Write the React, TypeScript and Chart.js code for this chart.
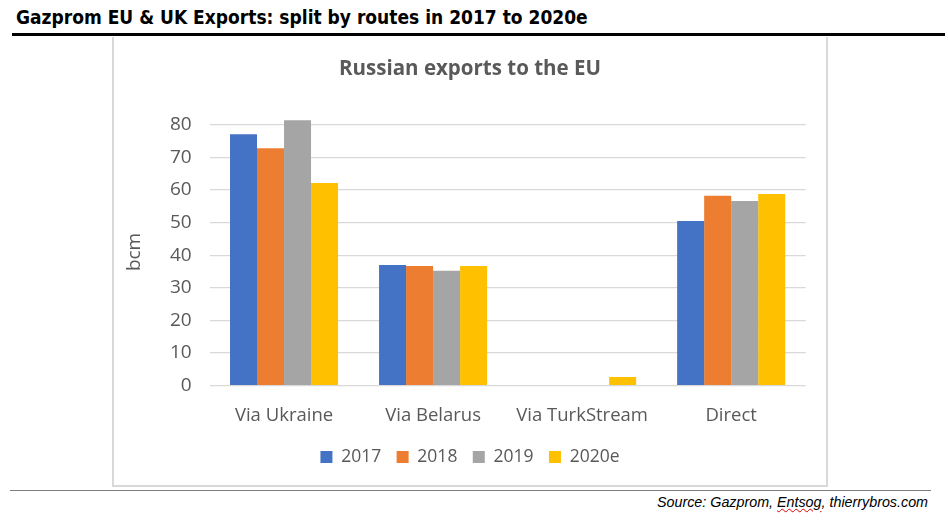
import React, { useEffect, useRef } from "react";
import { Chart, registerables } from "chart.js";

Chart.register(...registerables);

const categories = ["Via Ukraine", "Via Belarus", "Via TurkStream", "Direct"];
const seriesLabels = ["2017", "2018", "2019", "2020e"];
const values2017 = [77.1, 37.0, 0, 50.5];
const values2018 = [72.8, 36.7, 0, 58.2];
const values2019 = [81.4, 35.2, 0, 56.6];
const values2020e = [62.1, 36.7, 2.7, 58.8];
const yTicks = [0, 10, 20, 30, 40, 50, 60, 70, 80];
const seriesColors = ["#4472C4", "#ED7D31", "#A5A5A5", "#FFC000"];

const pageTitle = "Gazprom EU & UK Exports: split by routes in 2017 to 2020e";
const chartTitle = "Russian exports to the EU";
const yAxisTitle = "bcm";

const TEXT = "#595959";
const FONT = "'Open Sans', 'Noto Sans', sans-serif";

export default function App() {
  const canvasRef = useRef<HTMLCanvasElement | null>(null);

  useEffect(() => {
    if (!canvasRef.current) return;
    const allValues = [values2017, values2018, values2019, values2020e];
    const chart = new Chart(canvasRef.current, {
      type: "bar",
      data: {
        labels: categories,
        datasets: seriesLabels.map((label, i) => ({
          label,
          data: allValues[i],
          backgroundColor: seriesColors[i],
          borderWidth: 0,
          categoryPercentage: 0.725,
          barPercentage: 1,
        })),
      },
      options: {
        responsive: false,
        animation: false,
        devicePixelRatio: 1,
        layout: { padding: { left: 20.3, right: 20.3, top: 0, bottom: 9.25 } },
        font: { family: FONT },
        plugins: {
          title: {
            display: true,
            text: chartTitle,
            color: TEXT,
            font: { family: FONT, size: 20.5, weight: "bold" },
            padding: { top: 17.7, bottom: 36.9 },
          },
          legend: {
            position: "bottom",
            labels: {
              color: TEXT,
              font: { family: FONT, size: 17.5 },
              boxWidth: 12,
              boxHeight: 12,
              padding: 15.4,
            },
          },
          tooltip: { enabled: false },
        },
        scales: {
          x: {
            grid: { display: false },
            border: { display: false },
            ticks: { color: TEXT, font: { family: FONT, size: 18.5 }, padding: 11 },
            afterFit: (scale: any) => {
              scale.height = 47.15;
            },
          },
          y: {
            min: 0,
            max: 82,
            grid: { color: "#d9d9d9", lineWidth: 1.3, drawTicks: false },
            border: { display: false },
            ticks: {
              color: TEXT,
              font: { family: FONT, size: 19 },
              padding: 17.8,
              stepSize: 10,
            },
            afterBuildTicks: (scale: any) => {
              scale.ticks = yTicks.map((v) => ({ value: v }));
            },
            afterFit: (scale: any) => {
              scale.width = 75.2;
            },
            title: {
              display: true,
              text: yAxisTitle,
              color: TEXT,
              font: { family: FONT, size: 19 },
              padding: { top: -10.7, bottom: 0 },
            },
          },
        },
      },
    });
    return () => chart.destroy();
  }, []);

  return (
    <div
      style={{
        position: "absolute",
        left: 0,
        top: 0,
        width: 948,
        height: 523,
        background: "#ffffff",
        overflow: "hidden",
      }}
    >
      <div
        style={{
          position: "absolute",
          left: 16,
          top: 7,
          fontFamily: "'Liberation Sans Narrow', 'DejaVu Sans Condensed', sans-serif",
          fontWeight: "bold",
          fontSize: 19,
          lineHeight: "20px",
          color: "#000",
          whiteSpace: "nowrap",
        }}
      >
        {pageTitle}
      </div>
      <div style={{ position: "absolute", left: 12, top: 33, width: 933, height: 3, background: "#000" }} />
      <div
        style={{
          position: "absolute",
          left: 112,
          top: 37,
          width: 716,
          height: 450,
          boxSizing: "border-box",
          borderLeft: "2px solid #d9d9d9",
          borderRight: "2px solid #d9d9d9",
          borderBottom: "2px solid #d9d9d9",
        }}
      />
      <canvas
        ref={canvasRef}
        width={712}
        height={446}
        style={{ position: "absolute", left: 114, top: 39, width: 712, height: 446 }}
      />
      <div style={{ position: "absolute", left: 10, top: 490, width: 921, height: 1, background: "#7f7f7f" }} />
      <div
        style={{
          position: "absolute",
          right: 20,
          top: 495,
          fontFamily: "'Liberation Sans', sans-serif",
          fontStyle: "italic",
          fontSize: 14.3,
          lineHeight: "14px",
          color: "#000",
          whiteSpace: "nowrap",
        }}
      >
        Source: Gazprom,{" "}
        <span style={{ textDecoration: "underline wavy #e00000", textDecorationThickness: 1 }}>Entsog</span>,
        thierrybros.com
      </div>
    </div>
  );
}
